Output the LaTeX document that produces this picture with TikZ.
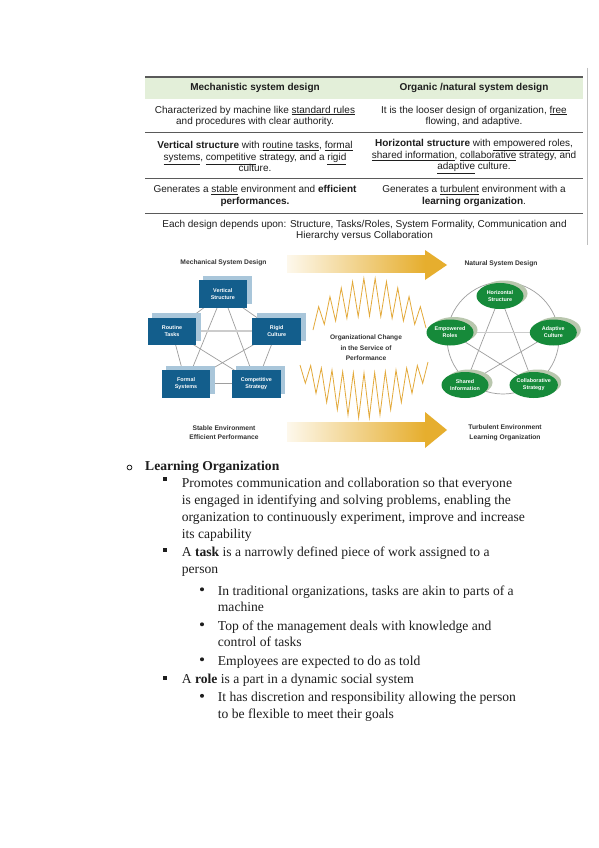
\documentclass[tikz,border=0pt]{standalone}
\usepackage{fontspec}
\setmainfont{Liberation Serif}
\setsansfont{Liberation Sans}
\usetikzlibrary{shapes.geometric,backgrounds}
\definecolor{tblgreen}{HTML}{E3EFD9}
\definecolor{tblline}{HTML}{5A5A5A}
\definecolor{boxblue}{HTML}{135E8C}
\definecolor{shblue}{HTML}{A9C6DA}
\definecolor{ellgreen}{HTML}{168A3A}
\definecolor{shgreen}{HTML}{B9C7AE}
\definecolor{gold}{HTML}{E6AE2E}
\definecolor{goldpale}{HTML}{FDF8EC}
\definecolor{zigc}{HTML}{E3A93A}
\definecolor{txt}{HTML}{1E1E1E}
\begin{document}
\begin{tikzpicture}[x=1pt,y=-1pt,
 tbl/.style={font=\sffamily\fontsize{10}{11.6}\selectfont, align=center, text=txt, inner sep=0pt},
 tblhead/.style={tbl, font=\sffamily\bfseries\fontsize{10}{11.6}\selectfont},
 hrule/.style={draw=tblline, line width=1.4pt},
 lbl/.style={font=\sffamily\bfseries\fontsize{6.7}{9.8}\selectfont, align=center, text=black!80, inner sep=0pt},
 bluebox/.style={rectangle, fill=boxblue, minimum width=48.5pt, minimum height=27.5pt, inner sep=0pt, text=white, align=center, font=\sffamily\bfseries\fontsize{5.4}{7}\selectfont},
 greenell/.style={ellipse, fill=ellgreen, minimum width=47pt, minimum height=26pt, inner sep=0pt, text=white, align=center, font=\sffamily\bfseries\fontsize{5.4}{7}\selectfont},
 bshadow/.style={fill=shblue},
 gshadow/.style={fill=shgreen},
 conn/.style={draw=black!38, line width=0.7pt},
 connwide/.style={draw=black!20, line width=1.8pt},
 zig/.style={draw=zigc, line width=0.8pt, line join=miter},
 body/.style={font=\fontsize{13.6}{17}\selectfont, anchor=base west, inner sep=0pt, text=txt},
]
\useasboundingbox (0,0) rectangle (599,848);
\begin{pgfonlayer}{background}
\fill[white] (0,0) rectangle (599,848);
\end{pgfonlayer}

% ---------- table ----------
\fill[tblgreen] (145,77) rectangle (583,99);
\draw[hrule, line width=1.6pt] (145,77) -- (583,77);
\draw[hrule] (145,132.7) -- (583,132.7);
\draw[hrule] (145,178.3) -- (583,178.3);
\draw[hrule] (145,213.3) -- (583,213.3);
\draw[black!25, line width=0.6pt] (587,68) -- (587,245);

\node[tblhead] (h1) at (255,88.3) {Mechanistic system design};
\node[tblhead] (h2) at (474,88.3) {Organic /natural system design};
\node[tbl] (r1a) at (255,116.3) {Characterized by machine like \underline{standard rules}\\and procedures with clear authority.};
\node[tbl] (r1b) at (474,116.3) {It is the looser design of organization, \underline{free}\\flowing, and adaptive.};
\node[tbl] (r2a) at (255,156.7) {\textbf{Vertical structure} with \underline{routine tasks}, \underline{formal}\\\underline{systems}, \underline{competitive} strategy, and a \underline{rigid}\\culture.};
\node[tbl] (r2b) at (474,156.7) {\textbf{Horizontal structure} with \underline{empowered roles},\\\underline{shared information}, \underline{collaborative} strategy, and\\\underline{adaptive} culture.};
\node[tbl] (r3a) at (255,195.8) {Generates a \underline{stable} environment and \textbf{efficient}\\\textbf{performances.}};
\node[tbl] (r3b) at (474,195.8) {Generates a \underline{turbulent} environment with a\\\textbf{learning organization}.};
\node[tbl] (r4) at (364.5,230.4) {Each design depends upon: Structure, Tasks/Roles, System Formality, Communication and\\Hierarchy versus Collaboration};

% ---------- big arrows ----------
\shade[left color=goldpale, right color=gold] (287,255) rectangle (425,272);
\fill[gold] (425,250) -- (447,265) -- (425,280) -- cycle;
\shade[left color=goldpale, right color=gold] (287,422) rectangle (425,441);
\fill[gold] (425,412) -- (447,430) -- (425,448) -- cycle;

% ---------- zigzags ----------
\draw[zig] (313,330) \foreach \i [evaluate=\i as \yy using 328-12*sin(9*\i)-(16+22*sin(9*\i))*(1-cos(180*\i))/2] in {1,...,19} { -- ({313+\i*5.65},\yy) } -- (426,328);
\draw[zig] (300,365) \foreach \i [evaluate=\i as \yy using 363+10*sin(7.5*\i)+(15+30*sin(7.5*\i))*(1-cos(180*\i))/2] in {1,...,23} { -- ({300+\i*5.3333},\yy) } -- (428,362);

% ---------- labels ----------
\node[lbl] (mech) at (223.5,262.3) {Mechanical System Design};
\node[lbl] (nat) at (501,263.3) {Natural System Design};
\node[lbl] (stab) at (224,432.7) {Stable Environment\\Efficient Performance};
\node[lbl] (turb) at (505,433) {Turbulent Environment\\Learning Organization};
\node[lbl, font=\sffamily\bfseries\fontsize{6.6}{10.3}\selectfont] (chg) at (366,347.7) {Organizational Change\\in the Service of\\Performance};

% ---------- mechanical pentagon ----------
\node[bluebox] (vs) at (222.8,293.8) {Vertical\\Structure};
\node[bluebox] (rt) at (172,331.3) {Routine\\Tasks};
\node[bluebox] (rc) at (276.7,331.3) {Rigid\\Culture};
\node[bluebox] (fs) at (186,383.8) {Formal\\Systems};
\node[bluebox] (cs) at (256.3,383.8) {Competitive\\Strategy};
\begin{pgfonlayer}{background}
\draw[conn] (vs.center) -- (rt.center);
\draw[conn] (vs.center) -- (rc.center);
\draw[conn] (rt.center) -- (fs.center);
\draw[conn] (rc.center) -- (cs.center);
\draw[conn] (fs.center) -- (cs.center);
\draw[conn] (vs.center) -- (fs.center);
\draw[conn] (vs.center) -- (cs.center);
\draw[connwide] (rt.center) -- (rc.center);
\draw[conn] (rt.center) -- (cs.center);
\draw[conn] (rc.center) -- (fs.center);
\foreach \b in {vs,rt,rc,fs,cs}
  \fill[bshadow] ([shift={(4.5,-4)}]\b.south west) rectangle ([shift={(4.5,-4)}]\b.north east);
\end{pgfonlayer}

% ---------- natural pentagon ----------
\coordinate (ring) at (503,338);
\node[greenell] (hs) at (500,296) {Horizontal\\Structure};
\node[greenell] (er) at (450,332.5) {Empowered\\Roles};
\node[greenell] (ac) at (553.3,332.5) {Adaptive\\Culture};
\node[greenell] (si) at (465,385) {Shared\\Information};
\node[greenell] (co) at (533.7,385) {Collaborative\\Strategy};
\begin{pgfonlayer}{background}
\draw[conn] (ring) circle[radius=56];
\draw[conn] (hs.center) -- (si.center);
\draw[conn] (hs.center) -- (co.center);
\draw[connwide] (er.center) -- (ac.center);
\draw[conn] (er.center) -- (co.center);
\draw[conn] (ac.center) -- (si.center);
\foreach \e in {hs,er,ac,si,co}
  \fill[gshadow] ([shift={(4,-2.5)}]\e.center) ellipse[x radius=23.5, y radius=13];
\end{pgfonlayer}

% ---------- bullets ----------
\draw[txt, line width=0.8pt] (129.5,467.5) circle[radius=2.4];
\fill[txt] (163,477) rectangle (166.5,480.7);
\fill[txt] (163,548) rectangle (166.5,551.7);
\fill[txt] (163,676.3) rectangle (166.5,680);
\fill[txt] (202,589.3) circle[radius=2];
\fill[txt] (202,624.3) circle[radius=2];
\fill[txt] (202,659.3) circle[radius=2];
\fill[txt] (202,695.8) circle[radius=2];

% ---------- body text ----------
\node[body, font=\bfseries\fontsize{13.6}{17}\selectfont] (lo) at (145,470) {Learning Organization};
\node[body] (a1) at (181.7,487) {Promotes communication and collaboration so that everyone};
\node[body] (a2) at (181.7,504.5) {is engaged in identifying and solving problems, enabling the};
\node[body] (a3) at (181.7,521.5) {organization to continuously experiment, improve and increase};
\node[body] (a4) at (181.7,538.5) {its capability};
\node[body] (b1) at (181.7,556.5) {A \textbf{task} is a narrowly defined piece of work assigned to a};
\node[body] (b2) at (181.7,573.5) {person};
\node[body] (c1) at (217.7,595) {In traditional organizations, tasks are akin to parts of a};
\node[body] (c2) at (217.7,611.5) {machine};
\node[body] (d1) at (217.7,630) {Top of the management deals with knowledge and};
\node[body] (d2) at (217.7,646.5) {control of tasks};
\node[body] (e1) at (217.7,665) {Employees are expected to do as told};
\node[body] (f1) at (181.7,683) {A \textbf{role} is a part in a dynamic social system};
\node[body] (g1) at (217.7,701.5) {It has discretion and responsibility allowing the person};
\node[body] (g2) at (217.7,718.5) {to be flexible to meet their goals};
\end{tikzpicture}
\end{document}
